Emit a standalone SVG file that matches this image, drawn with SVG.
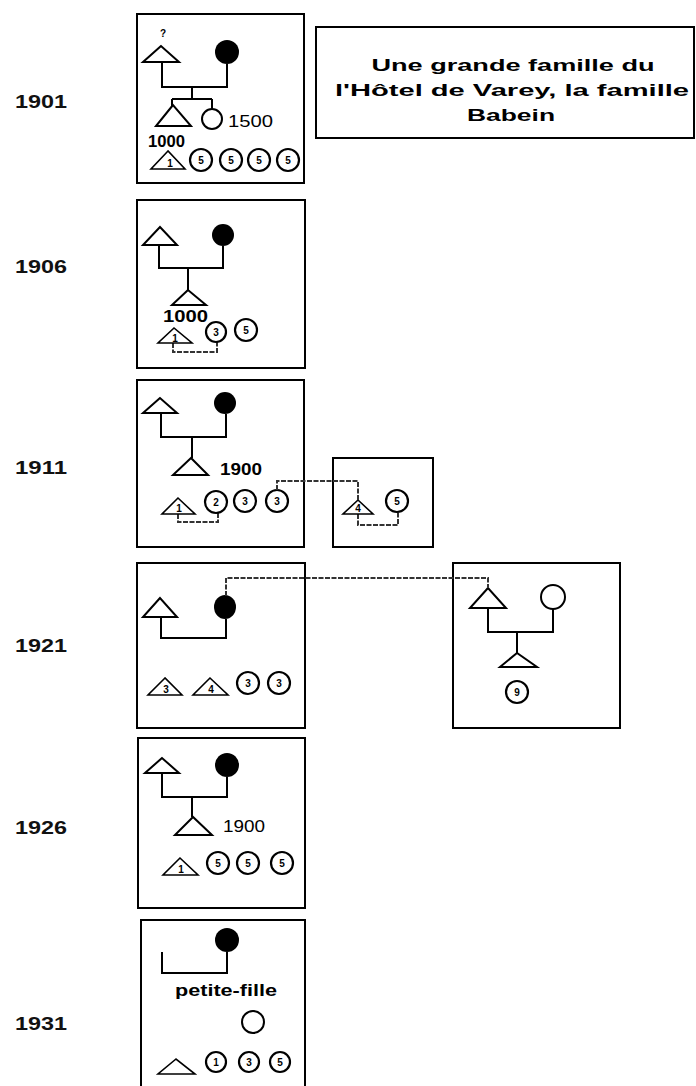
<svg xmlns="http://www.w3.org/2000/svg" width="696" height="1086" viewBox="0 0 696 1086">
<style>
.box{fill:none;stroke:#000;stroke-width:2}
.ln{fill:none;stroke:#000;stroke-width:2}
.dash{fill:none;stroke:#333;stroke-width:2;stroke-dasharray:5 1.5}
.tri{fill:#fff;stroke:#000;stroke-width:2}
.trs{fill:#fff;stroke:#000;stroke-width:1.6}
.fc{fill:#000}
.oc{fill:#fff;stroke:#000;stroke-width:2}
.sc{fill:#fff;stroke:#000;stroke-width:2.2}
.yr{font-family:"Liberation Sans",sans-serif;font-weight:bold;font-size:18px;fill:#111}
.lb{font-family:"Liberation Sans",sans-serif;font-size:16px;fill:#000}
.d{font-family:"Liberation Sans",sans-serif;font-size:10px;font-weight:bold;fill:#000;text-anchor:middle}
.ttl{font-family:"Liberation Sans",sans-serif;font-weight:bold;font-size:16px;fill:#000;text-anchor:middle}
</style>
<g id="years">
<text class="yr" x="15" y="108" textLength="52" lengthAdjust="spacingAndGlyphs">1901</text>
<text class="yr" x="15" y="273" textLength="52" lengthAdjust="spacingAndGlyphs">1906</text>
<text class="yr" x="15" y="474" textLength="52" lengthAdjust="spacingAndGlyphs">1911</text>
<text class="yr" x="15" y="652" textLength="52" lengthAdjust="spacingAndGlyphs">1921</text>
<text class="yr" x="15" y="834" textLength="52" lengthAdjust="spacingAndGlyphs">1926</text>
<text class="yr" x="15" y="1030" textLength="52" lengthAdjust="spacingAndGlyphs">1931</text>
</g>
<g id="title">
<rect class="box" x="316" y="27" width="378" height="111"/>
<text class="ttl" x="513" y="71" textLength="283" lengthAdjust="spacingAndGlyphs">Une grande famille du</text>
<text class="ttl" x="512" y="96" textLength="354" lengthAdjust="spacingAndGlyphs">l'Hôtel de Varey, la famille</text>
<text class="ttl" x="511" y="121" textLength="88" lengthAdjust="spacingAndGlyphs">Babein</text>
</g>
<g id="box1901">
<rect class="box" x="137" y="14" width="167" height="169"/>
<text class="d" x="163" y="37">?</text>
<path class="ln" d="M162,62V87H227V64M192,87V99M172,99H212M172,99V106M212,99V109"/>
<polygon class="tri" points="161,46 143,62 179,62"/>
<circle class="fc" cx="227" cy="52" r="12"/>
<polygon class="tri" points="173,105 156,126 191,126"/>
<circle class="oc" cx="212" cy="119" r="10"/>
<text class="lb" x="228" y="127" textLength="45" lengthAdjust="spacingAndGlyphs">1500</text>
<text class="lb" x="148" y="147" textLength="37" lengthAdjust="spacingAndGlyphs" font-weight="bold">1000</text>
<polygon class="trs" points="168,151 151,169 185,169"/>
<text class="d" x="170" y="167">1</text>
<circle class="sc" cx="201" cy="160" r="11"/><text class="d" x="201" y="164">5</text>
<circle class="sc" cx="231" cy="160" r="11"/><text class="d" x="231" y="164">5</text>
<circle class="sc" cx="259" cy="160" r="11"/><text class="d" x="259" y="164">5</text>
<circle class="sc" cx="288" cy="160" r="11"/><text class="d" x="288" y="164">5</text>
</g>
<g id="box1906">
<rect class="box" x="137" y="200" width="168" height="168"/>
<path class="ln" d="M159,245V268H223V246M188,268V291"/>
<polygon class="tri" points="160,227 143,245 177,245"/>
<circle class="fc" cx="223" cy="235" r="11"/>
<polygon class="tri" points="188,290 172,305 206,305"/>
<text class="lb" x="163" y="322" textLength="45" lengthAdjust="spacingAndGlyphs" font-weight="bold">1000</text>
<path class="dash" d="M173,343V352H217V342"/>
<polygon class="trs" points="174,328 158,343 192,343"/>
<text class="d" x="175" y="342">1</text>
<circle class="sc" cx="216" cy="332" r="10"/><text class="d" x="216" y="336">3</text>
<circle class="sc" cx="246" cy="330" r="11"/><text class="d" x="246" y="334">5</text>
</g>
<g id="box1911">
<rect class="box" x="137" y="380" width="167" height="167"/>
<path class="ln" d="M161,413V437H226V414M192,437V458"/>
<polygon class="tri" points="160,398 143,413 177,413"/>
<circle class="fc" cx="225" cy="403" r="11"/>
<polygon class="tri" points="191,458 173,475 208,475"/>
<text class="lb" x="220" y="475" textLength="42" lengthAdjust="spacingAndGlyphs" font-weight="bold">1900</text>
<path class="dash" d="M178,514V522H218V513"/>
<polygon class="trs" points="178,498 162,514 195,514"/>
<text class="d" x="179" y="512">1</text>
<circle class="sc" cx="216" cy="502" r="11"/><text class="d" x="216" y="506">2</text>
<circle class="sc" cx="245" cy="501" r="11"/><text class="d" x="245" y="505">3</text>
<circle class="sc" cx="277" cy="501" r="11"/><text class="d" x="277" y="505">3</text>
</g>
<g id="box1911b">
<rect class="box" x="333" y="458" width="100" height="89"/>
<path class="dash" d="M358,514V525H398V512"/>
<polygon class="trs" points="358,500 343,514 373,514"/>
<text class="d" x="358" y="512">4</text>
<circle class="sc" cx="397" cy="501" r="11"/><text class="d" x="397" y="505">5</text>
</g>
<g id="box1921">
<rect class="box" x="137" y="563" width="168" height="165"/>
<path class="ln" d="M161,617V638H226V619"/>
<polygon class="tri" points="160,598 143,617 177,617"/>
<ellipse class="fc" cx="225" cy="607" rx="11" ry="12"/>
<polygon class="trs" points="165,678 148,695 182,695"/>
<text class="d" x="166" y="693">3</text>
<polygon class="trs" points="210,678 193,695 228,695"/>
<text class="d" x="211" y="693">4</text>
<circle class="sc" cx="248" cy="683" r="11"/><text class="d" x="248" y="687">3</text>
<circle class="sc" cx="279" cy="683" r="11"/><text class="d" x="279" y="687">3</text>
</g>
<g id="box1921b">
<rect class="box" x="453" y="563" width="167" height="165"/>
<path class="ln" d="M488,608V632H553V609M517,632V653"/>
<polygon class="tri" points="488,588 470,608 506,608"/>
<circle class="oc" cx="553" cy="597" r="12"/>
<polygon class="tri" points="517,653 500,667 537,667"/>
<circle class="sc" cx="517" cy="692" r="11"/><text class="d" x="517" y="696">9</text>
</g>
<g id="box1926">
<rect class="box" x="138" y="738" width="167" height="170"/>
<path class="ln" d="M162,773V797H227V777M192,797V817"/>
<polygon class="tri" points="162,758 145,773 179,773"/>
<circle class="fc" cx="227" cy="765" r="12"/>
<polygon class="tri" points="193,817 175,835 212,835"/>
<text class="lb" x="223" y="832" textLength="42" lengthAdjust="spacingAndGlyphs">1900</text>
<polygon class="trs" points="180,858 163,875 198,875"/>
<text class="d" x="181" y="873">1</text>
<circle class="sc" cx="218" cy="863" r="11"/><text class="d" x="218" y="867">5</text>
<circle class="sc" cx="248" cy="863" r="11"/><text class="d" x="248" y="867">5</text>
<circle class="sc" cx="282" cy="863" r="11"/><text class="d" x="282" y="867">5</text>
</g>
<g id="box1931">
<path class="box" d="M141,1086V920H305V1086"/>
<path class="ln" d="M162,952V973H227V952"/>
<circle class="fc" cx="227" cy="940" r="12"/>
<text class="lb" x="175" y="996" textLength="102" lengthAdjust="spacingAndGlyphs" font-weight="bold">petite-fille</text>
<circle class="oc" cx="253" cy="1022" r="11"/>
<polygon class="trs" points="176,1059 158,1074 195,1074"/>
<circle class="sc" cx="216" cy="1062" r="10"/><text class="d" x="216" y="1066">1</text>
<circle class="sc" cx="249" cy="1062" r="10"/><text class="d" x="249" y="1066">3</text>
<circle class="sc" cx="280" cy="1062" r="10"/><text class="d" x="280" y="1066">5</text>
</g>
<g id="connectors">
<path class="dash" d="M277,490V481H358V500"/>
<path class="dash" d="M226,596V578H488V588"/>
</g>
</svg>
